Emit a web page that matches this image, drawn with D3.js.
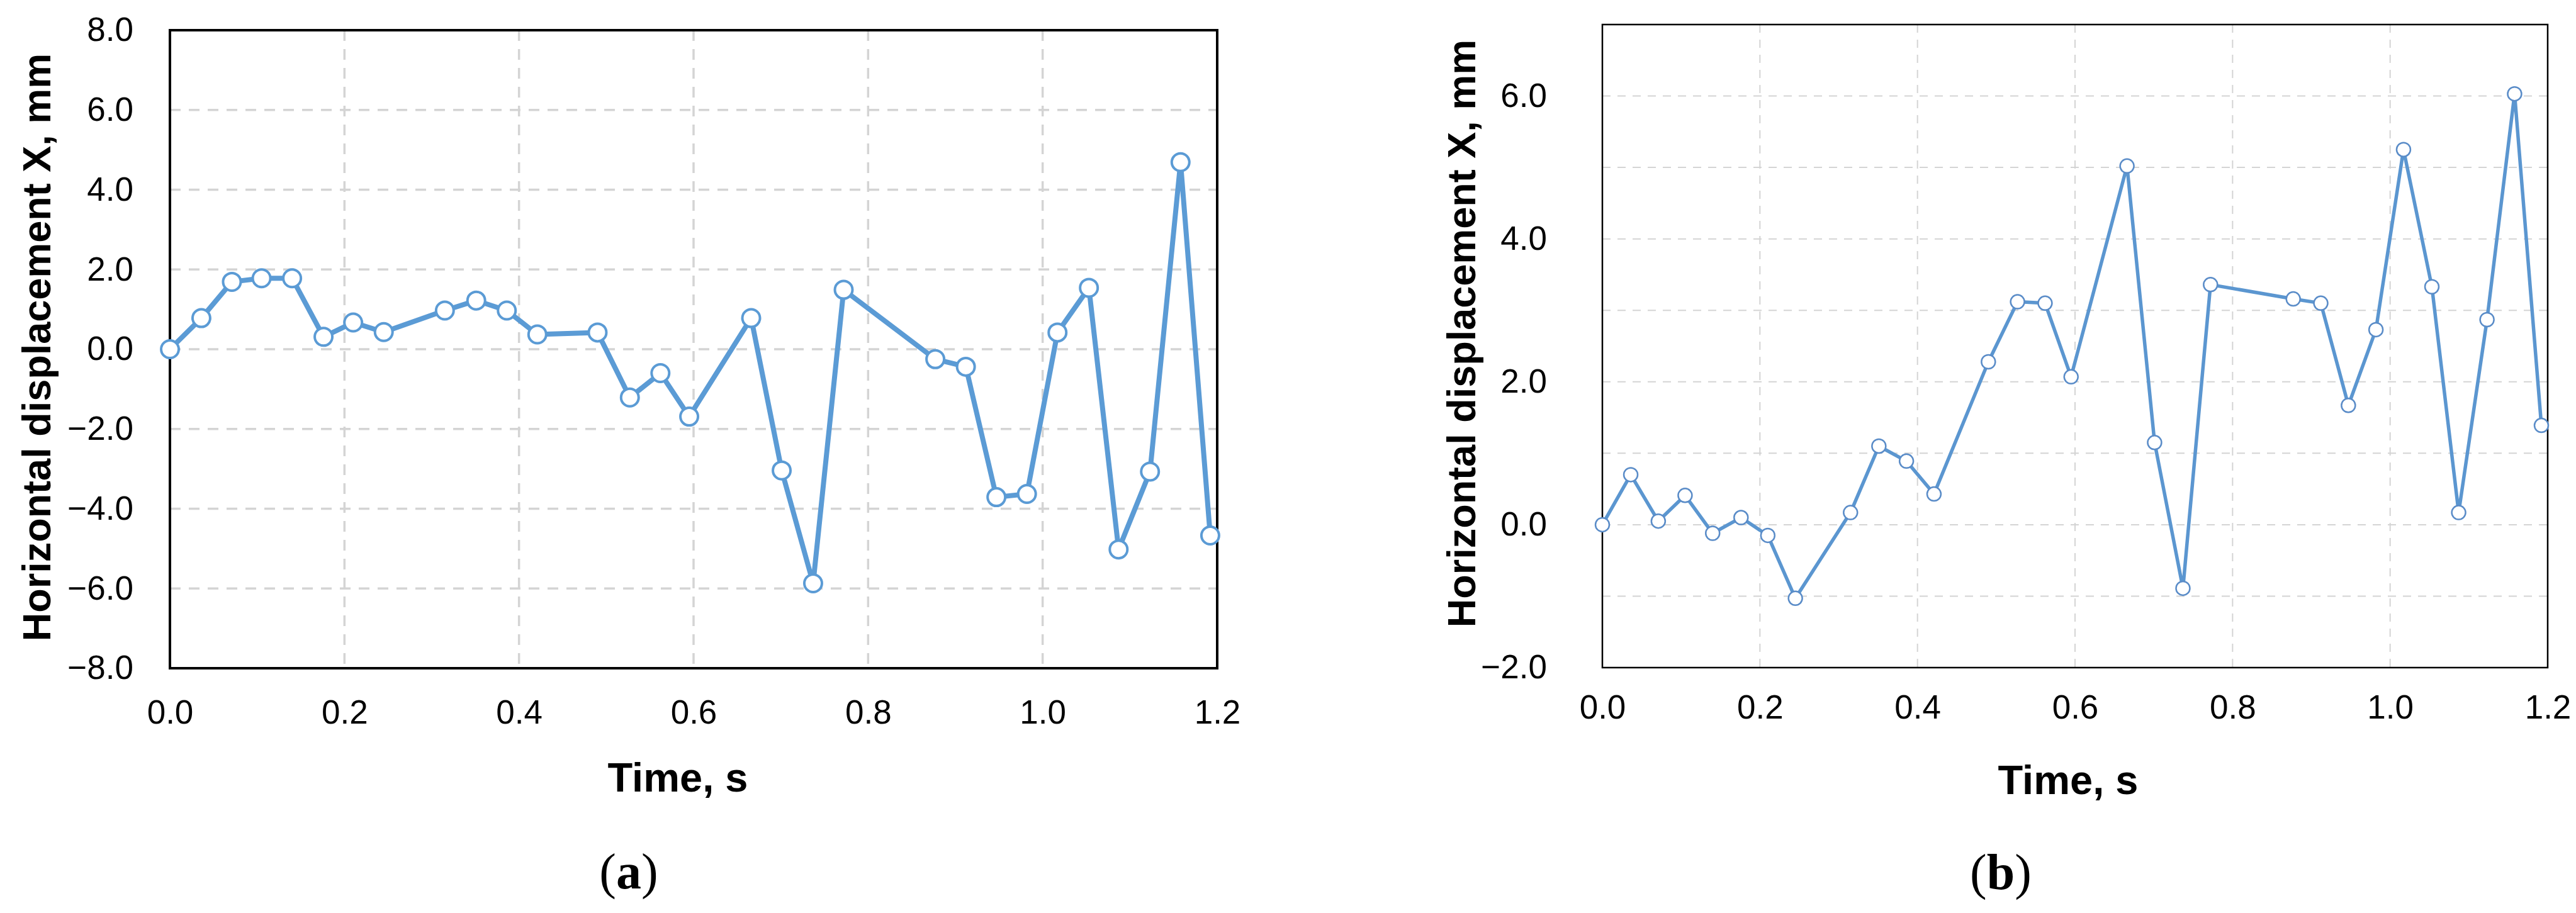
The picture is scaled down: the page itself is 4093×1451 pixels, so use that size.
<!DOCTYPE html>
<html>
<head>
<meta charset="utf-8">
<script src="https://cdn.jsdelivr.net/npm/d3@7"></script>
<style>
  body { margin: 0; background: #fff; }
  text { font-family: "Liberation Sans", Arial, sans-serif; fill: #000; }
</style>
</head>
<body>
<script>
// time stamps of the frames (s), same for both panels
var time = [0, 0.036, 0.071, 0.105, 0.14, 0.176, 0.21, 0.245, 0.315, 0.351,
  0.386, 0.421, 0.49, 0.527, 0.562, 0.595, 0.666, 0.701, 0.737, 0.772,
  0.877, 0.912, 0.947, 0.982, 1.017, 1.053, 1.087, 1.123, 1.158, 1.192];

// panel (a) horizontal displacement, mm
var dispA = [0, 0.78, 1.69, 1.78, 1.78, 0.31, 0.67, 0.43, 0.97, 1.22,
  0.97, 0.37, 0.42, -1.21, -0.6, -1.69, 0.78, -3.04, -5.87, 1.49,
  -0.25, -0.44, -3.71, -3.63, 0.42, 1.54, -5.02, -3.07, 4.69, -4.67];

// panel (b) horizontal displacement, mm
var dispB = [0, 0.70, 0.05, 0.41, -0.12, 0.10, -0.15, -1.03, 0.17, 1.10,
  0.89, 0.43, 2.28, 3.12, 3.10, 2.07, 5.02, 1.15, -0.89, 3.36,
  3.16, 3.10, 1.67, 2.73, 5.25, 3.33, 0.17, 2.87, 6.03, 1.39];

var xTicks = [0, 0.2, 0.4, 0.6, 0.8, 1.0, 1.2];
var yTicksA = [-8, -6, -4, -2, 0, 2, 4, 6, 8];
var yGridA = [-6, -4, -2, 0, 2, 4, 6];
var yTicksB = [-2, 0, 2, 4, 6];
var yGridB = [-1, 0, 1, 2, 3, 4, 5, 6];

var svg = d3.select("body").append("svg")
  .attr("width", 4093)
  .attr("height", 1451);

function fmt(d) {
  var s = d3.format(".1f")(Math.abs(d));
  return d < 0 ? "\u2212" + s : s;
}

function panel(cfg) {
  var g = svg.append("g");
  var x = d3.scaleLinear().domain([0, 1.2]).range([cfg.left, cfg.right]);
  var y = d3.scaleLinear().domain(cfg.yDomain).range([cfg.bottom, cfg.top]);
  var w = cfg.right - cfg.left, h = cfg.bottom - cfg.top;

  // grid
  g.append("g").selectAll("line.hg")
    .data(cfg.yGrid).enter().append("line")
    .attr("x1", cfg.left).attr("x2", cfg.right)
    .attr("y1", function(d) { return y(d); })
    .attr("y2", function(d) { return y(d); })
    .attr("stroke", "#d4d4d4")
    .attr("stroke-width", cfg.gridW)
    .attr("stroke-dasharray", cfg.dash);
  g.append("g").selectAll("line.vg")
    .data(xTicks.slice(1, -1)).enter().append("line")
    .attr("y1", cfg.top).attr("y2", cfg.bottom)
    .attr("x1", function(d) { return x(d); })
    .attr("x2", function(d) { return x(d); })
    .attr("stroke", "#d4d4d4")
    .attr("stroke-width", cfg.gridW)
    .attr("stroke-dasharray", cfg.dash);

  // axes (labels only)
  var ax = g.append("g")
    .attr("transform", "translate(0," + cfg.bottom + ")")
    .call(d3.axisBottom(x).tickValues(xTicks).tickSize(0)
      .tickPadding(cfg.xPad).tickFormat(d3.format(".1f")));
  var ay = g.append("g")
    .attr("transform", "translate(" + cfg.left + ",0)")
    .call(d3.axisLeft(y).tickValues(cfg.yTicks).tickSize(0)
      .tickPadding(cfg.yPad).tickFormat(fmt));
  [ax, ay].forEach(function(a) {
    a.select(".domain").remove();
    a.selectAll("text")
      .style("font-family", '"Liberation Sans", Arial, sans-serif')
      .style("font-size", "53px")
      .attr("fill", "#000");
  });

  // frame
  g.append("rect")
    .attr("x", cfg.left).attr("y", cfg.top)
    .attr("width", w).attr("height", h)
    .attr("fill", "none")
    .attr("stroke", "#000")
    .attr("stroke-width", cfg.frameW);

  // series
  var pts = time.map(function(t, i) { return [t, cfg.values[i]]; });
  g.append("path")
    .datum(pts)
    .attr("fill", "none")
    .attr("stroke", cfg.color)
    .attr("stroke-width", cfg.lineW)
    .attr("stroke-linejoin", "round")
    .attr("d", d3.line().x(function(d) { return x(d[0]); }).y(function(d) { return y(d[1]); }));
  g.selectAll("circle")
    .data(pts).enter().append("circle")
    .attr("cx", function(d) { return x(d[0]); })
    .attr("cy", function(d) { return y(d[1]); })
    .attr("r", cfg.r)
    .attr("fill", "#fff")
    .attr("stroke", cfg.markColor)
    .attr("stroke-width", cfg.markW);

  // titles
  g.append("text")
    .attr("transform", "translate(" + cfg.yTitleX + "," + cfg.yTitleY + ") rotate(-90)")
    .attr("text-anchor", "middle")
    .style("font-size", "63px")
    .style("font-weight", "bold")
    .text("Horizontal displacement X, mm");
  g.append("text")
    .attr("x", cfg.xTitleX).attr("y", cfg.xTitleY)
    .attr("text-anchor", "middle")
    .style("font-size", "65px")
    .style("font-weight", "bold")
    .text("Time, s");

  var cap = g.append("text")
    .attr("x", cfg.capX).attr("y", cfg.capY)
    .attr("text-anchor", "middle")
    .style("font-family", '"Liberation Serif", "Times New Roman", serif')
    .style("font-size", "80px");
  cap.append("tspan").text("(");
  cap.append("tspan").style("font-weight", "bold").text(cfg.cap);
  cap.append("tspan").text(")");
}

panel({
  left: 270, right: 1934, top: 48, bottom: 1062,
  yDomain: [-8, 8], yTicks: yTicksA, yGrid: yGridA, values: dispA,
  xPad: 50, yPad: 58,
  gridW: 3.5, dash: "17,13", frameW: 4,
  color: "#5b9bd5", markColor: "#5b9bd5", lineW: 8, r: 14, markW: 4,
  yTitleX: 80, yTitleY: 552,
  xTitleX: 1077, xTitleY: 1258,
  capX: 999, capY: 1412, cap: "a"
});

panel({
  left: 2546, right: 4048, top: 39, bottom: 1061,
  yDomain: [-2, 7], yTicks: yTicksB, yGrid: yGridB, values: dispB,
  xPad: 43, yPad: 88,
  gridW: 2, dash: "13,11", frameW: 2.5,
  color: "#5b96d0", markColor: "#5a8cc8", lineW: 5.5, r: 11, markW: 2.5,
  yTitleX: 2344, yTitleY: 530,
  xTitleX: 3286, xTitleY: 1262,
  capX: 3179, capY: 1413, cap: "b"
});
</script>
</body>
</html>
